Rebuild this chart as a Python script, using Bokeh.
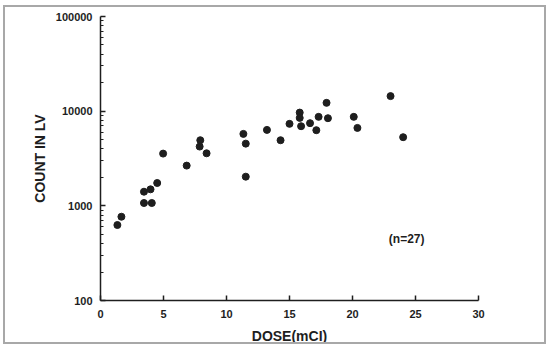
from bokeh.plotting import figure
from bokeh.models import FixedTicker, Range1d, PrintfTickFormatter
from bokeh.core.properties import value
from bokeh.embed import file_html
from bokeh.resources import INLINE

# data
dose = [1.34, 1.66, 3.45, 3.45, 3.97, 4.07, 4.5, 4.97, 6.84, 7.92, 7.87, 8.42,
        11.34, 11.53, 11.53, 13.21, 14.29, 15.0, 15.81, 15.81, 15.92, 16.63,
        17.13, 17.31, 17.94, 18.05, 20.1, 20.39, 23.02, 24.02]
count = [627, 767, 1410, 1071, 1494, 1071, 1742, 3562, 2660, 4932, 4227, 3589,
         5754, 4540, 2032, 6340, 4932, 7345, 9660, 8490, 6935, 7465,
         6295, 8710, 12240, 8430, 8710, 6655, 14420, 5310]

x_ticks = [0, 5, 10, 15, 20, 25, 30]
y_ticks = [100, 1000, 10000, 100000]
y_minor = [m * 10 ** e for e in (2, 3, 4) for m in range(2, 10)]
note_text = ["(n=27)"]
note_x = [24.3]
note_y = [446]

FONT = "Liberation Sans"
INK = "#1e1e1e"

p = figure(width=543, height=339, output_backend="svg", toolbar_location=None,
           y_axis_type="log", x_range=Range1d(0, 30), y_range=Range1d(100, 100000),
           min_border_left=95, min_border_right=70, min_border_top=9,
           min_border_bottom=42)
p.styles = {"border": "2px solid #a8a8a8", "box-sizing": "border-box",
            "margin-left": "3px", "margin-top": "5px"}
p.outline_line_color = None
p.grid.grid_line_color = None
p.background_fill_color = "white"
p.border_fill_color = "white"

xa = p.xaxis[0]
xa.ticker = FixedTicker(ticks=x_ticks)
xa.major_tick_in = 5
xa.major_tick_out = 0
xa.minor_tick_line_color = None
xa.axis_line_width = 1.5
xa.major_tick_line_width = 1.5
xa.axis_line_color = INK
xa.major_tick_line_color = INK
xa.major_label_text_font = FONT
xa.major_label_text_font_style = "bold"
xa.major_label_text_font_size = "11px"
xa.major_label_text_color = INK
xa.major_label_standoff = 9
xa.axis_label = "DOSE(mCI)"
xa.axis_label_text_font = FONT
xa.axis_label_text_font_style = "bold"
xa.axis_label_text_font_size = "14px"
xa.axis_label_text_color = INK
xa.axis_label_standoff = 7

ya = p.yaxis[0]
ya.ticker = FixedTicker(ticks=y_ticks, minor_ticks=y_minor)
ya.formatter = PrintfTickFormatter(format="%d")
ya.major_tick_in = 5
ya.major_tick_out = 0
ya.minor_tick_in = 3
ya.minor_tick_out = 0
ya.axis_line_width = 1.5
ya.major_tick_line_width = 1.5
ya.minor_tick_line_width = 1
ya.axis_line_color = INK
ya.major_tick_line_color = INK
ya.minor_tick_line_color = INK
ya.major_label_text_font = FONT
ya.major_label_text_font_style = "bold"
ya.major_label_text_font_size = "11px"
ya.major_label_text_color = INK
ya.major_label_standoff = 8
ya.axis_label = "COUNT IN LV"
ya.axis_label_text_font = FONT
ya.axis_label_text_font_style = "bold"
ya.axis_label_text_font_size = "14px"
ya.axis_label_text_color = INK
ya.axis_label_standoff = 5

p.scatter(dose, count, size=7, fill_color=INK, line_color=INK)

p.text(note_x, note_y, text=note_text, text_font=value(FONT),
       text_font_size="12px", text_font_style="bold", text_align="center",
       text_baseline="middle", text_color=INK)

open("out.html", "w").write(file_html(p, INLINE))
